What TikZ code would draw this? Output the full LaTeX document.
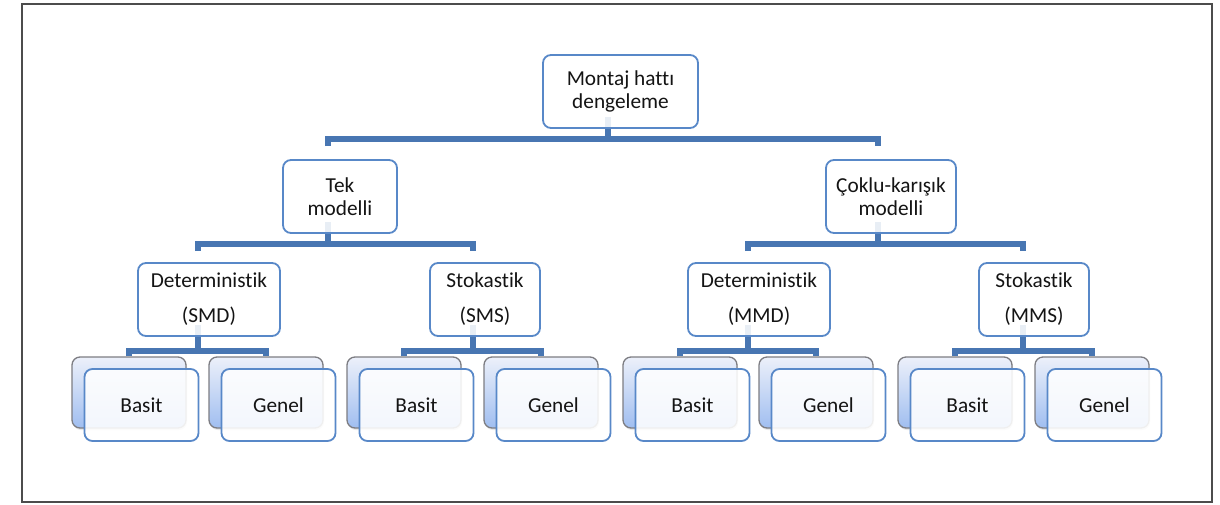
\documentclass[tikz,border=0pt]{standalone}
\usepackage{fontspec}
\setmainfont{Carlito}[Ligatures={NoCommon,TeX}]
\usetikzlibrary{calc,shadows}
\definecolor{lineblue}{RGB}{72,118,178}
\definecolor{boxblue}{RGB}{88,136,200}
\definecolor{txt}{RGB}{20,20,20}
\definecolor{backtop}{RGB}{236,240,250}
\definecolor{backbot}{RGB}{160,190,240}
\definecolor{backedge}{RGB}{125,125,130}
\pgfdeclarelayer{bg}
\pgfsetlayers{bg,main}
\tikzset{
  conn/.style={draw=lineblue, line width=6pt, line join=miter},
  lvl/.style={draw=boxblue, line width=1.8pt, fill=white, fill opacity=0.88, text opacity=1,
    rounded corners=8pt, align=center, inner sep=0pt, text=txt,
    font={\fontsize{21.3}{22.5}\selectfont}, minimum height=73pt},
  backbox/.style={draw=backedge, line width=1.3pt, rounded corners=8pt,
    top color=backtop, bottom color=backbot, minimum width=114pt, minimum height=71pt,
    drop shadow={opacity=0.18, shadow xshift=1pt, shadow yshift=-2pt}},
  leaf/.style={lvl, minimum width=114pt, minimum height=72pt}
}
\begin{document}
\begin{tikzpicture}[x=1pt,y=-1pt]
\useasboundingbox (0,0) rectangle (1220,504);
\draw[line width=1.6pt, black!70] (22,4) rectangle (1212,502);

% level 1
\node[lvl, minimum width=155pt] (top) at (620.5,91.5) {Montaj hattı\\dengeleme};
% level 2
\node[lvl, minimum width=114pt] (tek) at (340,196.5) {Tek\\modelli};
\node[lvl, minimum width=130pt] (cok) at (891,196.5) {Çoklu-karışık\\modelli};
% level 3
\node[lvl, minimum width=142pt] (smd) at (209,299.5) {Deterministik\\[12.5pt](SMD)};
\node[lvl, minimum width=110pt] (sms) at (485,299.5) {Stokastik\\[12.5pt](SMS)};
\node[lvl, minimum width=142pt] (mmd) at (759,299.5) {Deterministik\\[12.5pt](MMD)};
\node[lvl, minimum width=110pt] (mms) at (1034,299.5) {Stokastik\\[12.5pt](MMS)};

% level 4: back boxes
\node[backbox] (smdBb) at (129,392.5) {};
\node[backbox] (smdGb) at (266,392.5) {};
\node[backbox] (smsBb) at (404,392.5) {};
\node[backbox] (smsGb) at (541,392.5) {};
\node[backbox] (mmdBb) at (680,392.5) {};
\node[backbox] (mmdGb) at (816,392.5) {};
\node[backbox] (mmsBb) at (955,392.5) {};
\node[backbox] (mmsGb) at (1092,392.5) {};
% level 4: front boxes
\node[leaf] (smdB) at (141.5,405) {Basit};
\node[leaf] (smdG) at (278.5,405) {Genel};
\node[leaf] (smsB) at (416.5,405) {Basit};
\node[leaf] (smsG) at (553.5,405) {Genel};
\node[leaf] (mmdB) at (692.5,405) {Basit};
\node[leaf] (mmdG) at (828.5,405) {Genel};
\node[leaf] (mmsB) at (967.5,405) {Basit};
\node[leaf] (mmsG) at (1104.5,405) {Genel};

\begin{pgfonlayer}{bg}
% top -> level 2
\coordinate (bus1) at ($(top.south)+(-12.5,10)$);
\draw[conn] ($(top.south)+(-12.5,-12)$) -- (bus1);
\draw[conn] ($(tek.north)+(-12,-13)$) |- (bus1) -| ($(cok.north)+(-13,-13)$);
% tek -> smd, sms
\coordinate (bus2a) at ($(tek.south)+(-12,10)$);
\draw[conn] ($(tek.south)+(-12,-12)$) -- (bus2a);
\draw[conn] ($(smd.north)+(-11,-11)$) |- (bus2a) -| ($(sms.north)+(-12,-11)$);
% cok -> mmd, mms
\coordinate (bus2b) at ($(cok.south)+(-13,10)$);
\draw[conn] ($(cok.south)+(-13,-12)$) -- (bus2b);
\draw[conn] ($(mmd.north)+(-11,-11)$) |- (bus2b) -| ($(mms.north)+(-11,-11)$);
% level 3 -> level 4
\coordinate (bus3a) at ($(smd.south)+(-11,14)$);
\draw[conn] ($(smd.south)+(-11,-12)$) -- (bus3a);
\draw[conn] (smdBb.north) |- (bus3a) -| (smdGb.north);
\coordinate (bus3b) at ($(sms.south)+(-12,14)$);
\draw[conn] ($(sms.south)+(-12,-12)$) -- (bus3b);
\draw[conn] (smsBb.north) |- (bus3b) -| (smsGb.north);
\coordinate (bus3c) at ($(mmd.south)+(-11,14)$);
\draw[conn] ($(mmd.south)+(-11,-12)$) -- (bus3c);
\draw[conn] (mmdBb.north) |- (bus3c) -| (mmdGb.north);
\coordinate (bus3d) at ($(mms.south)+(-11,14)$);
\draw[conn] ($(mms.south)+(-11,-12)$) -- (bus3d);
\draw[conn] (mmsBb.north) |- (bus3d) -| (mmsGb.north);
\end{pgfonlayer}
\end{tikzpicture}
\end{document}
